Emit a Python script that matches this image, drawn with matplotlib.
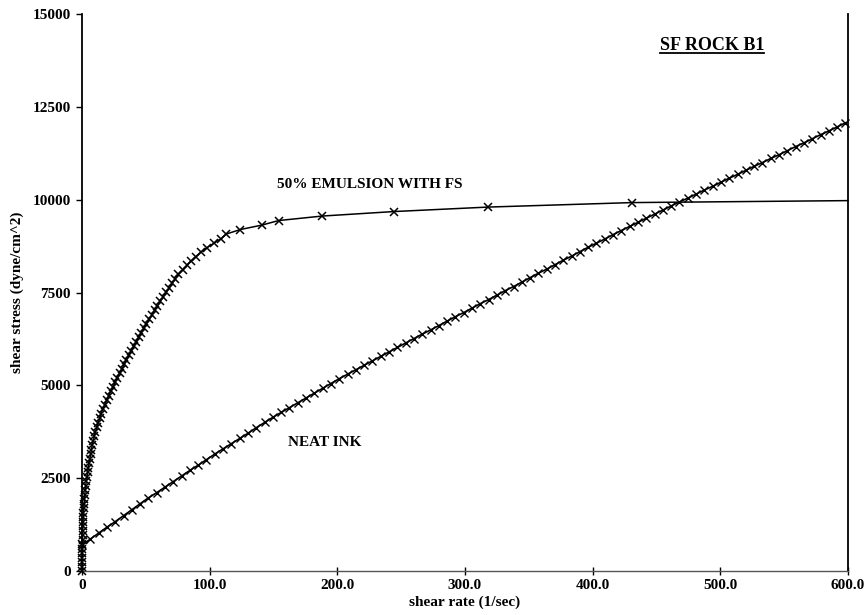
import matplotlib
matplotlib.use("Agg")
import matplotlib.pyplot as plt
from matplotlib.lines import Line2D

# --- data -------------------------------------------------------------
# 50% emulsion with FS: shear rate (1/sec) and shear stress (dyne/cm^2)
emulsion_rate = [
    0.0, 0.06, 0.12, 0.18, 0.24, 0.30, 0.37, 0.45, 0.52, 0.59,
    0.71, 0.83, 0.95, 1.15, 1.39, 1.63, 1.87, 2.18, 2.55, 2.93,
    3.31, 3.82, 4.37, 4.92, 5.53, 6.15, 6.76, 7.38, 8.04, 8.80,
    9.56, 10.46, 11.56, 12.66, 13.76, 14.86, 16.33, 17.84, 19.35, 20.92,
    22.53, 24.17, 25.98, 27.77, 29.53, 31.28, 33.04, 34.80, 36.61, 38.55,
    40.49, 42.44, 44.38, 46.32, 48.26, 50.35, 52.54, 54.72, 56.91, 59.09,
    61.28, 63.57, 65.92, 68.27, 70.61, 72.96, 75.44, 78.81, 82.17, 85.58,
    89.26, 93.24, 98.08, 103.65, 109.05, 113.0, 124.0, 141.0, 154.0, 188.0,
    244.0, 318.0, 431.0, 600.0,
]
emulsion_stress = [
    0, 121, 242, 363, 484, 605, 726, 847, 968, 1089,
    1210, 1331, 1452, 1573, 1694, 1815, 1936, 2057, 2178, 2299,
    2420, 2541, 2662, 2783, 2904, 3025, 3146, 3267, 3388, 3509,
    3630, 3751, 3872, 3993, 4114, 4235, 4356, 4477, 4598, 4719,
    4840, 4961, 5082, 5203, 5324, 5445, 5566, 5687, 5808, 5929,
    6050, 6171, 6292, 6413, 6534, 6655, 6776, 6897, 7018, 7139,
    7260, 7381, 7502, 7623, 7744, 7865, 7986, 8107, 8228, 8349,
    8470, 8591, 8712, 8833, 8954, 9075, 9196, 9317, 9438, 9559,
    9680, 9801, 9922, 9975,
]

# Neat ink: shear rate (1/sec) and shear stress (dyne/cm^2)
neat_rate = [
    0.0, 6.5, 13.0, 19.5, 26.0, 32.5, 39.0, 45.5, 52.0, 58.5,
    65.0, 71.5, 78.0, 84.5, 91.0, 97.5, 104.0, 110.5, 117.0, 123.5,
    130.0, 136.5, 143.0, 149.5, 156.0, 162.5, 169.0, 175.5, 182.0, 188.5,
    195.0, 201.5, 208.0, 214.5, 221.0, 227.5, 234.0, 240.5, 247.0, 253.5,
    260.0, 266.5, 273.0, 279.5, 286.0, 292.5, 299.0, 305.5, 312.0, 318.5,
    325.0, 331.5, 338.0, 344.5, 351.0, 357.5, 364.0, 370.5, 377.0, 383.5,
    390.0, 396.5, 403.0, 409.5, 416.0, 422.5, 429.0, 435.5, 442.0, 448.5,
    455.0, 461.5, 468.0, 474.5, 481.0, 487.5, 494.0, 500.5, 507.0, 513.5,
    520.0, 526.5, 533.0, 539.5, 546.0, 552.5, 559.0, 565.5, 572.0, 578.5,
    585.0, 591.5, 598.0,
]
neat_stress = [
    700, 860, 1020, 1180, 1330, 1490, 1650, 1810, 1970, 2110,
    2260, 2410, 2560, 2710, 2850, 3000, 3150, 3290, 3430, 3570,
    3710, 3860, 4000, 4140, 4270, 4400, 4530, 4660, 4790, 4920,
    5050, 5180, 5300, 5420, 5540, 5660, 5780, 5900, 6020, 6140,
    6260, 6380, 6490, 6610, 6730, 6850, 6960, 7080, 7200, 7310,
    7430, 7550, 7660, 7780, 7900, 8020, 8130, 8250, 8370, 8480,
    8600, 8720, 8830, 8940, 9060, 9170, 9280, 9390, 9500, 9610,
    9720, 9830, 9940, 10040, 10150, 10260, 10360, 10470, 10580, 10680,
    10790, 10900, 11000, 11110, 11210, 11320, 11430, 11530, 11640, 11750,
    11850, 11960, 12070,
]

x_ticks = [0, 100, 200, 300, 400, 500, 600]
x_tick_labels = ["0", "100.0", "200.0", "300.0", "400.0", "500.0", "600.0"]
y_ticks = [0, 2500, 5000, 7500, 10000, 12500, 15000]
y_tick_labels = ["0", "2500", "5000", "7500", "10000", "12500", "15000"]

title_text = "SF ROCK B1"
emulsion_label = "50% EMULSION WITH FS"
neat_label = "NEAT INK"

# --- figure -----------------------------------------------------------
plt.rcParams["font.family"] = ["Liberation Serif", "DejaVu Serif"]
plt.rcParams["font.weight"] = "bold"

fig = plt.figure(figsize=(8.66, 6.15), dpi=100)
ax = fig.add_axes([0.0947, 0.0715, 0.8845, 0.9057])

# the last emulsion point only carries the line to the axis edge
ax.plot(emulsion_rate, emulsion_stress, color="black", lw=1.1,
        marker="x", ms=5.5, mew=1.1, markevery=list(range(len(emulsion_rate) - 1)),
        clip_on=False, zorder=3)
ax.plot(neat_rate, neat_stress, color="black", lw=1.2,
        marker="x", ms=6, mew=1.0, clip_on=False, zorder=3)

ax.set_xlim(0, 600)
ax.set_ylim(0, 15000)

ax.set_xticks(x_ticks)
ax.set_xticklabels(x_tick_labels)
ax.set_yticks(y_ticks)
ax.set_yticklabels(y_tick_labels)

ax.tick_params(axis="x", direction="inout", length=6, width=1.0,
               labelsize=11, pad=3)
ax.tick_params(axis="y", direction="out", length=4, width=1.0,
               labelsize=11, pad=4)
for lab in ax.get_xticklabels() + ax.get_yticklabels():
    lab.set_fontweight("bold")

ax.spines["top"].set_visible(False)
ax.spines["left"].set_linewidth(1.3)
ax.spines["right"].set_linewidth(1.3)
ax.spines["bottom"].set_linewidth(1.0)
ax.spines["bottom"].set_color("#555555")

ax.set_xlabel("shear rate (1/sec)", fontsize=11, fontweight="bold", labelpad=2)
ax.set_ylabel("shear stress (dyne/cm^2)", fontsize=11, fontweight="bold", labelpad=6)

ax.text(225, 10400, emulsion_label, fontsize=11, fontweight="bold",
        ha="center", va="center")
ax.text(190, 3470, neat_label, fontsize=11, fontweight="bold",
        ha="center", va="center")
title = ax.text(493.5, 14150, title_text, fontsize=13, fontweight="bold",
                ha="center", va="center")

# underline the title using its rendered extent
fig.canvas.draw()
bb = title.get_window_extent().transformed(fig.transFigure.inverted())
fig.add_artist(Line2D([bb.x0, bb.x1], [bb.y0 + 0.002, bb.y0 + 0.002],
                      transform=fig.transFigure, color="black", lw=1.3))

fig.savefig("out.png", dpi=100)
